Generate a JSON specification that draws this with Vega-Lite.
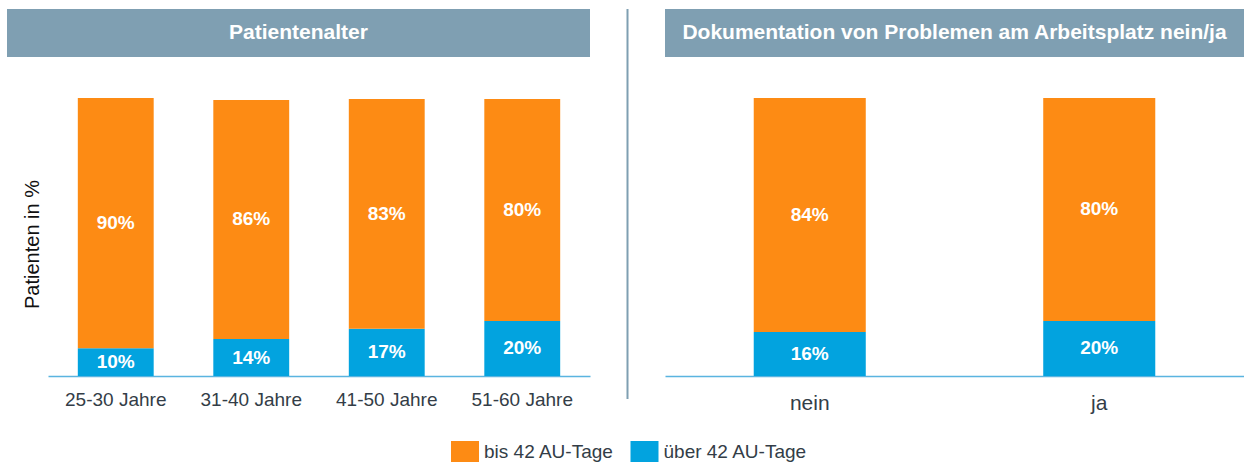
{
  "$schema": "https://vega.github.io/schema/vega-lite/v6.json",
  "padding": {"left": 7, "top": 8, "right": 0, "bottom": 0},
  "background": "white",
  "config": {
    "font": "Liberation Sans",
    "view": {"stroke": null},
    "legend": {
      "orient": "none",
      "legendX": 447.5,
      "legendY": 432,
      "direction": "horizontal",
      "title": null,
      "labelFontSize": 19,
      "labelColor": "#333d47",
      "labelFont": "Liberation Sans",
      "symbolType": "M-1.333,-1H1.333V1H-1.333Z",
      "symbolSize": 441,
      "symbolStrokeWidth": 0,
      "labelOffset": 8.5,
      "columnPadding": 15.5
    }
  },
  "datasets": {
    "alter": [
      {"gruppe": "25-30 Jahre", "serie": "über 42 AU-Tage", "rang": 1, "anteil": 0.10, "label": "10%"},
      {"gruppe": "25-30 Jahre", "serie": "bis 42 AU-Tage", "rang": 2, "anteil": 0.90, "label": "90%"},
      {"gruppe": "31-40 Jahre", "serie": "über 42 AU-Tage", "rang": 1, "anteil": 0.133, "label": "14%"},
      {"gruppe": "31-40 Jahre", "serie": "bis 42 AU-Tage", "rang": 2, "anteil": 0.860, "label": "86%"},
      {"gruppe": "41-50 Jahre", "serie": "über 42 AU-Tage", "rang": 1, "anteil": 0.170, "label": "17%"},
      {"gruppe": "41-50 Jahre", "serie": "bis 42 AU-Tage", "rang": 2, "anteil": 0.826, "label": "83%"},
      {"gruppe": "51-60 Jahre", "serie": "über 42 AU-Tage", "rang": 1, "anteil": 0.198, "label": "20%"},
      {"gruppe": "51-60 Jahre", "serie": "bis 42 AU-Tage", "rang": 2, "anteil": 0.798, "label": "80%"}
    ],
    "doku": [
      {"doku": "nein", "serie": "über 42 AU-Tage", "rang": 1, "anteil": 0.158, "label": "16%"},
      {"doku": "nein", "serie": "bis 42 AU-Tage", "rang": 2, "anteil": 0.842, "label": "84%"},
      {"doku": "ja", "serie": "über 42 AU-Tage", "rang": 1, "anteil": 0.198, "label": "20%"},
      {"doku": "ja", "serie": "bis 42 AU-Tage", "rang": 2, "anteil": 0.802, "label": "80%"}
    ]
  },
  "resolve": {"scale": {"color": "shared"}, "legend": {"color": "shared"}},
  "spacing": 36,
  "hconcat": [
    {
      "concat": [
        {
          "width": 583,
          "height": 48,
          "view": {"fill": "#7f9fb2", "stroke": null},
          "data": {"values": [{"t": "Patientenalter"}]},
          "mark": {"type": "text", "fontWeight": "bold", "fontSize": 21, "color": "white", "baseline": "middle", "align": "center"},
          "encoding": {"text": {"field": "t"}}
        },
        {
          "width": 583,
          "height": 278,
          "data": {"name": "alter"},
          "encoding": {
            "x": {
              "field": "gruppe", "type": "nominal", "sort": null,
              "scale": {"range": [41, 583], "paddingInner": 0.44, "paddingOuter": 0.22},
              "axis": {"title": null, "labelAngle": 0, "ticks": false, "domainColor": "#5ab4e0", "domainWidth": 1.5, "labelFontSize": 19, "labelColor": "#333d47", "labelPadding": 14}
            }
          },
          "layer": [
            {
              "mark": {"type": "bar"},
              "encoding": {
                "y": {
                  "field": "anteil", "type": "quantitative", "stack": "zero",
                  "scale": {"domain": [0, 1]},
                  "axis": {
                    "title": "Patienten in %", "grid": false, "ticks": false, "domain": false, "labels": false,
                    "titleFontSize": 20, "titleFontWeight": "normal", "titleColor": "#111111",
                    "titleX": 31, "titleY": 146, "titleBaseline": "alphabetic"
                  }
                },
                "color": {
                  "field": "serie", "type": "nominal",
                  "scale": {"domain": ["bis 42 AU-Tage", "über 42 AU-Tage"], "range": ["#fd8b14", "#02a3df"]}
                },
                "order": {"field": "rang", "type": "quantitative"}
              }
            },
            {
              "mark": {"type": "text", "color": "white", "fontWeight": "bold", "fontSize": 19, "baseline": "middle"},
              "encoding": {
                "y": {"field": "anteil", "type": "quantitative", "stack": "zero", "bandPosition": 0.5, "title": "Patienten in %"},
                "detail": {"field": "serie"},
                "order": {"field": "rang", "type": "quantitative"},
                "text": {"field": "label"}
              }
            }
          ]
        }
      ],
      "columns": 1,
      "align": "none",
      "spacing": 41
    },
    {
      "width": 3,
      "height": 390,
      "data": {"values": [{"p": 0.5}]},
      "mark": {"type": "rule", "color": "#7f9fb2", "strokeWidth": 2},
      "encoding": {"x": {"field": "p", "type": "quantitative", "scale": {"domain": [0, 1]}, "axis": null}}
    },
    {
      "concat": [
        {
          "width": 579,
          "height": 48,
          "view": {"fill": "#7f9fb2", "stroke": null},
          "data": {"values": [{"t": "Dokumentation von Problemen am Arbeitsplatz nein/ja"}]},
          "mark": {"type": "text", "fontWeight": "bold", "fontSize": 21, "color": "white", "baseline": "middle", "align": "center"},
          "encoding": {"text": {"field": "t"}}
        },
        {
          "width": 579,
          "height": 278,
          "data": {"name": "doku"},
          "encoding": {
            "x": {
              "field": "doku", "type": "nominal", "sort": null,
              "scale": {"paddingInner": 0.613, "paddingOuter": 0.3065},
              "axis": {"title": null, "labelAngle": 0, "ticks": false, "domainColor": "#5ab4e0", "domainWidth": 1.5, "labelFontSize": 21, "labelColor": "#333d47", "labelPadding": 16}
            }
          },
          "layer": [
            {
              "mark": {"type": "bar"},
              "encoding": {
                "y": {"field": "anteil", "type": "quantitative", "stack": "zero", "scale": {"domain": [0, 1]}, "axis": null},
                "color": {"field": "serie", "type": "nominal"},
                "order": {"field": "rang", "type": "quantitative"}
              }
            },
            {
              "mark": {"type": "text", "color": "white", "fontWeight": "bold", "fontSize": 19, "baseline": "middle"},
              "encoding": {
                "y": {"field": "anteil", "type": "quantitative", "stack": "zero", "bandPosition": 0.5, "axis": null},
                "detail": {"field": "serie"},
                "order": {"field": "rang", "type": "quantitative"},
                "text": {"field": "label"}
              }
            }
          ]
        }
      ],
      "columns": 1,
      "align": "none",
      "spacing": 41
    }
  ]
}
